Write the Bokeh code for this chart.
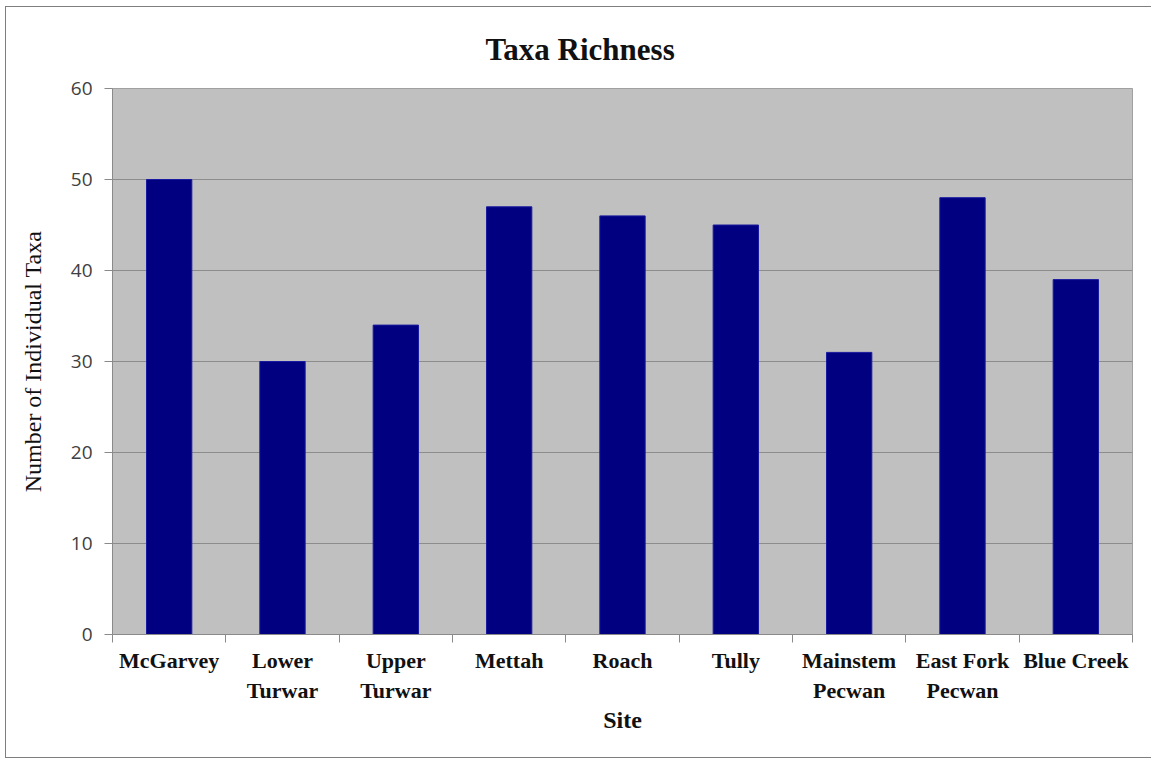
from bokeh.plotting import figure
from bokeh.models import Range1d, LinearAxis, FixedTicker, Title, ColumnDataSource
from bokeh.embed import file_html
from bokeh.resources import INLINE

sites = ["McGarvey", "Lower Turwar", "Upper Turwar", "Mettah", "Roach", "Tully",
         "Mainstem Pecwan", "East Fork Pecwan", "Blue Creek"]
site_labels = ["McGarvey", "Lower\nTurwar", "Upper\nTurwar", "Mettah", "Roach", "Tully",
               "Mainstem\nPecwan", "East Fork\nPecwan", "Blue Creek"]
taxa = [50, 30, 34, 47, 46, 45, 31, 48, 39]
y_ticks = [0, 10, 20, 30, 40, 50, 60]
chart_title = "Taxa Richness"

n = len(sites)
centers = [i + 0.5 for i in range(n)]
bounds = list(range(n + 1))
src = ColumnDataSource(dict(x=centers, site=sites, taxa=taxa))

p = figure(x_range=Range1d(0, n), y_range=Range1d(0, 60),
           width=1150, height=752, output_backend="svg", toolbar_location=None,
           x_axis_location=None, y_axis_location=None,
           min_border_left=106, min_border_top=81, min_border_right=24, min_border_bottom=125)
p.margin = (6, 0, 0, 5)
p.styles = {"border": "1px solid #7f7f7f"}

p.background_fill_color = "#C0C0C0"
p.border_fill_color = "white"
p.outline_line_color = "#a0a0a0"

p.vbar(x="x", top="taxa", width=0.4, source=src, fill_color="#000080",
       line_color="#1a1aa0", line_width=1)

# y axis
ya = LinearAxis(ticker=FixedTicker(ticks=y_ticks))
ya.axis_label = "Number of Individual Taxa"
ya.axis_label_text_font = "Liberation Serif"
ya.axis_label_text_font_style = "normal"
ya.axis_label_text_font_size = "24px"
ya.axis_label_text_color = "#111111"
ya.axis_label_standoff = 22
ya.major_label_text_font = "Open Sans"
ya.major_label_text_font_size = "19px"
ya.major_label_text_color = "#404040"
ya.major_label_standoff = 12
ya.major_tick_out = 8
ya.major_tick_in = 0
ya.minor_tick_out = 0
ya.minor_tick_in = 0
ya.major_tick_line_color = "#8a8a8a"
ya.axis_line_color = "#8a8a8a"
p.add_layout(ya, "left")

p.ygrid.ticker = FixedTicker(ticks=y_ticks)
p.ygrid.grid_line_color = "#8c8c8c"
p.xgrid.grid_line_color = None

# x axis: labels at category centres, ticks at category boundaries
xa = LinearAxis(ticker=FixedTicker(ticks=centers, minor_ticks=bounds))
xa.axis_line_color = "#8a8a8a"
xa.major_tick_line_color = None
xa.major_tick_out = 0
xa.major_tick_in = 0
xa.minor_tick_out = 8
xa.minor_tick_in = 0
xa.minor_tick_line_color = "#8a8a8a"
xa.major_label_overrides = dict(zip(centers, site_labels))
xa.major_label_text_font = "Liberation Serif"
xa.major_label_text_font_style = "bold"
xa.major_label_text_font_size = "22px"
xa.major_label_text_color = "#111111"
xa.major_label_standoff = 5
xa.axis_label = "Site"
xa.axis_label_text_font = "Liberation Serif"
xa.axis_label_text_font_style = "bold"
xa.axis_label_text_font_size = "24px"
xa.axis_label_text_color = "#111111"
xa.axis_label_standoff = 1
p.add_layout(xa, "below")

p.title = Title(text=chart_title, align="left", offset=373, standoff=44,
                text_font="Liberation Serif", text_font_style="bold",
                text_font_size="31px", text_color="#111111")

open("out.html", "w").write(file_html(p, INLINE))
